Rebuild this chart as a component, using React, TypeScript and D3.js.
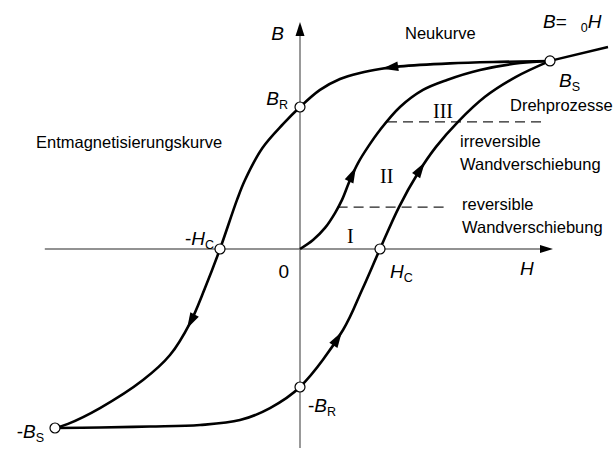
import React, { useEffect, useRef } from "react";
import * as d3 from "d3";

const WIDTH = 615;
const HEIGHT = 450;

// H in units of H_C, B in units of B_S
const descendingH = [3.125, 2.5, 1.875, 1.25, 1.0, 0.75, 0.5, 0.25, 0, -0.21, -0.47, -0.6875, -0.7875, -1.0, -1.19, -1.375, -1.625, -1.9625, -2.5, -2.9, -3.0625];
const descendingB = [1.0, 0.995, 0.987, 0.971, 0.957, 0.936, 0.904, 0.846, 0.755, 0.665, 0.537, 0.367, 0.261, 0, -0.21, -0.394, -0.564, -0.697, -0.846, -0.93, -0.952];

const ascendingH = [-3.0625, -2.5, -1.875, -1.25, -0.75, -0.375, 0, 0.5375, 0.775, 1.0, 1.2375, 1.475, 1.7, 1.975, 2.3125, 2.7, 3.125];
const ascendingB = [-0.952, -0.949, -0.944, -0.936, -0.91, -0.846, -0.734, -0.431, -0.218, 0, 0.223, 0.404, 0.543, 0.676, 0.809, 0.915, 1.0];

const virginH = [0, 0.1625, 0.3125, 0.4375, 0.525, 0.625, 0.725, 0.85, 1.0, 1.25, 1.5375, 1.8375, 2.25, 2.75, 3.125];
const virginB = [0, 0.048, 0.112, 0.191, 0.261, 0.367, 0.457, 0.543, 0.633, 0.755, 0.846, 0.899, 0.952, 0.989, 1.0];

const muLineH = [3.125, 3.85];
const muLineB = [1.0, 1.074];

const pointNames = ["BS", "BR", "-HC", "-BS", "-BR", "HC"];
const pointH = [3.125, 0, -1.0, -3.0625, 0, 1.0];
const pointB = [1.0, 0.755, 0, -0.952, -0.734, 0];

const dashB = [0.223, 0.676];
const dashFromH = [0.47, 1.0875];
const dashToH = [1.85, 3.0875];

const arrowCurves = ["desc", "desc", "asc", "asc", "virgin"];
const arrowAtH = [1.03, -1.41, 0.525, 1.5625, 0.7];

const axisH = [-3.19, 3.1625];
const axisB = [-1.058, 1.207];

export default function App() {
  const ref = useRef<SVGSVGElement | null>(null);

  useEffect(() => {
    document.body.style.margin = "0";
    const svg = d3.select(ref.current);
    svg.selectAll("*").remove();

    const x = d3.scaleLinear().domain([-3.75, 3.9375]).range([0, WIDTH]);
    const y = d3.scaleLinear().domain([-1.069, 1.324]).range([HEIGHT, 0]);

    const axisColor = "#6e6e6e";
    // horizontal axis
    svg.append("line")
      .attr("x1", x(axisH[0])).attr("x2", x(axisH[1]) - 10)
      .attr("y1", y(0)).attr("y2", y(0))
      .attr("stroke", axisColor).attr("stroke-width", 1.4);
    const hx = x(axisH[1]), hy = y(0);
    svg.append("path")
      .attr("d", `M${hx},${hy} L${hx - 13},${hy - 4} L${hx - 13},${hy + 4} Z`)
      .attr("fill", "#000");
    // vertical axis
    svg.append("line")
      .attr("x1", x(0)).attr("x2", x(0))
      .attr("y1", y(axisB[0])).attr("y2", y(axisB[1]) + 10)
      .attr("stroke", axisColor).attr("stroke-width", 1.4);
    const vx = x(0), vy = y(axisB[1]);
    svg.append("path")
      .attr("d", `M${vx},${vy} L${vx - 4.5},${vy + 14} L${vx + 4.5},${vy + 14} Z`)
      .attr("fill", "#000");

    // dashed region boundaries
    dashB.forEach((b, i) => {
      svg.append("line")
        .attr("x1", x(dashFromH[i])).attr("x2", x(dashToH[i]))
        .attr("y1", y(b)).attr("y2", y(b))
        .attr("stroke", "#222").attr("stroke-width", 1.3)
        .attr("stroke-dasharray", "10,6");
    });

    const line = d3.line<[number, number]>()
      .x((d) => x(d[0])).y((d) => y(d[1]))
      .curve(d3.curveCatmullRom.alpha(0.5));

    const curves: Record<string, [number, number][]> = {
      desc: descendingH.map((h, i) => [h, descendingB[i]]),
      asc: ascendingH.map((h, i) => [h, ascendingB[i]]),
      virgin: virginH.map((h, i) => [h, virginB[i]]),
    };
    const pathEls: Record<string, SVGPathElement> = {};
    Object.keys(curves).forEach((k) => {
      const p = svg.append("path")
        .attr("d", line(curves[k]) as string)
        .attr("fill", "none").attr("stroke", "#000")
        .attr("stroke-width", 2.6).attr("stroke-linejoin", "round");
      pathEls[k] = p.node() as SVGPathElement;
    });

    // B = mu0 H line
    svg.append("line")
      .attr("x1", x(muLineH[0])).attr("y1", y(muLineB[0]))
      .attr("x2", x(muLineH[1])).attr("y2", y(muLineB[1]))
      .attr("stroke", "#000").attr("stroke-width", 2.4);

    // arrowheads along curves
    arrowCurves.forEach((c, i) => {
      const el = pathEls[c];
      const total = el.getTotalLength();
      const tx = x(arrowAtH[i]);
      let best = 0, bestD = Infinity;
      for (let L = 0; L <= total; L += 0.5) {
        const p = el.getPointAtLength(L);
        const d = Math.abs(p.x - tx);
        if (d < bestD) { bestD = d; best = L; }
      }
      const tip = el.getPointAtLength(best);
      const back = el.getPointAtLength(Math.max(0, best - 6));
      let dx = tip.x - back.x, dy = tip.y - back.y;
      const n = Math.hypot(dx, dy) || 1;
      dx /= n; dy /= n;
      const len = 16, hw = 4.8;
      const bx = tip.x - dx * len, by = tip.y - dy * len;
      svg.append("path")
        .attr("d", `M${tip.x},${tip.y} L${bx - dy * hw},${by + dx * hw} L${bx + dy * hw},${by - dx * hw} Z`)
        .attr("fill", "#000");
    });

    // marker circles
    pointNames.forEach((_, i) => {
      svg.append("circle")
        .attr("cx", x(pointH[i])).attr("cy", y(pointB[i]))
        .attr("r", 5).attr("fill", "#fff")
        .attr("stroke", "#000").attr("stroke-width", 1.2);
    });

    type Part = { t: string; italic?: boolean; sub?: boolean; dx?: number };
    const label = (px: number, py: number, anchor: string, parts: Part[], size = 19) => {
      const t = svg.append("text")
        .attr("x", px).attr("y", py)
        .attr("text-anchor", anchor)
        .attr("font-family", "'Liberation Sans', Arial, sans-serif")
        .attr("font-size", size).attr("fill", "#000");
      let shifted = false;
      parts.forEach((p) => {
        const ts = t.append("tspan").text(p.t)
          .attr("font-style", p.italic ? "italic" : "normal");
        if (p.dx) ts.attr("dx", p.dx);
        if (p.sub) {
          ts.attr("font-size", size * 0.66).attr("dy", shifted ? 0 : 4);
          shifted = true;
        } else if (shifted) {
          ts.attr("dy", -4);
          shifted = false;
        }
      });
    };

    label(284, 40, "end", [{ t: "B", italic: true }]);
    label(520, 275, "start", [{ t: "H", italic: true }]);
    label(289, 278, "end", [{ t: "0" }]);
    label(288, 105, "end", [{ t: "B", italic: true }, { t: "R", sub: true }]);
    label(308, 412, "start", [{ t: "-" }, { t: "B", italic: true }, { t: "R", sub: true }]);
    label(390, 278, "start", [{ t: "H", italic: true }, { t: "C", sub: true }]);
    label(214, 245, "end", [{ t: "-" }, { t: "H", italic: true }, { t: "C", sub: true }]);
    label(559, 87, "start", [{ t: "B", italic: true }, { t: "S", sub: true }]);
    label(44, 438, "end", [{ t: "-" }, { t: "B", italic: true }, { t: "S", sub: true }]);
    label(543, 28, "start", [{ t: "B", italic: true }, { t: "=" }, { t: "0", sub: true, dx: 14 }, { t: "H", italic: true }]);

    const small = (px: number, py: number, s: string) =>
      svg.append("text").attr("x", px).attr("y", py)
        .attr("font-family", "'Liberation Sans', Arial, sans-serif")
        .attr("font-size", 16.5).attr("fill", "#000").text(s);
    small(405, 39, "Neukurve");
    small(510, 111, "Drehprozesse");
    small(460, 147, "irreversible");
    small(460, 170, "Wandverschiebung");
    small(462, 210, "reversible");
    small(462, 233, "Wandverschiebung");
    small(36, 148, "Entmagnetisierungskurve");

    const roman = (px: number, py: number, s: string) =>
      svg.append("text").attr("x", px).attr("y", py)
        .attr("font-family", "'Liberation Serif', 'Times New Roman', serif")
        .attr("font-size", 20).attr("fill", "#000").text(s);
    roman(433, 118, "III");
    roman(380, 183, "II");
    roman(347, 243, "I");
  }, []);

  return (
    <svg
      ref={ref}
      width={WIDTH}
      height={HEIGHT}
      style={{ position: "absolute", left: 0, top: 0, background: "#fff" }}
    />
  );
}
